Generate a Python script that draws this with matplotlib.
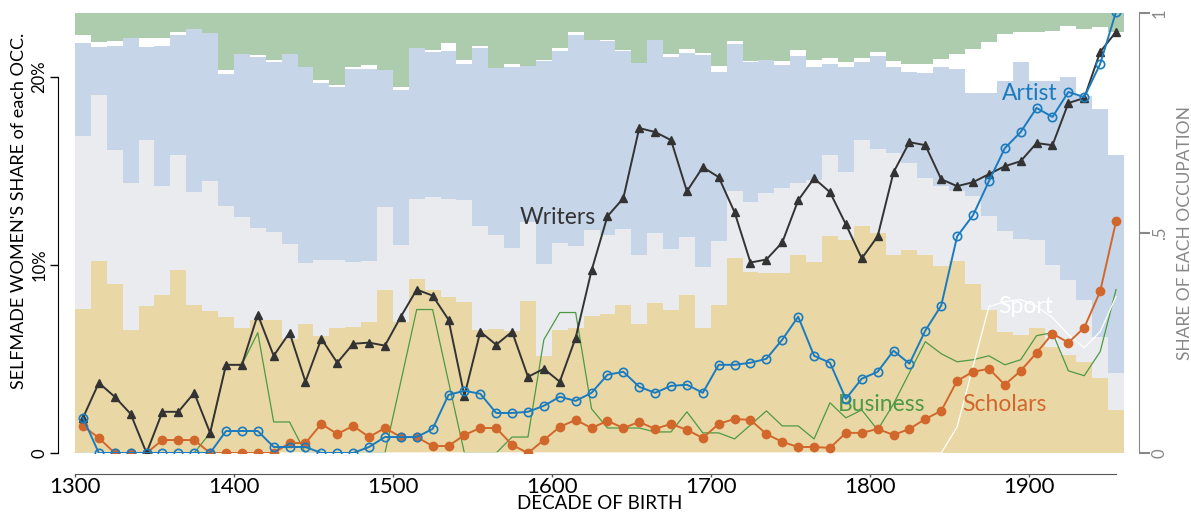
import numpy as np
import matplotlib.pyplot as plt

plt.rcParams['font.family'] = ['Lato', 'DejaVu Sans']

decades = list(range(1300, 1960, 10))

# share of each occupation among self-made women (percent)
share_scholars = [32.8, 43.7, 38.3, 28.0, 33.5, 36.0, 41.5, 33.5, 32.3, 31.0,
                  28.5, 30.3, 30.3, 26.0, 29.4, 26.7, 28.5, 28.7, 29.8, 37.1,
                  29.8, 39.6, 37.1, 35.5, 34.4, 28.0, 28.2, 27.8, 34.6, 22.1,
                  28.0, 28.5, 31.2, 31.7, 33.5, 29.4, 34.2, 32.6, 36.0, 28.5,
                  33.7, 44.4, 41.2, 41.0, 40.8, 44.9, 43.5, 49.4, 48.3, 51.7,
                  49.9, 45.1, 46.0, 45.1, 42.6, 43.5, 38.3, 32.6, 27.6, 26.9,
                  28.5, 24.1, 22.3, 20.7, 17.1, 9.8]
share_writers = [39.2, 37.6, 30.5, 33.3, 37.6, 24.6, 26.2, 25.7, 29.6, 25.1,
                 25.1, 21.0, 20.0, 21.6, 13.7, 17.3, 15.5, 14.8, 13.7, 18.9,
                 17.5, 18.2, 21.0, 22.1, 23.2, 23.5, 21.4, 18.9, 18.0, 20.7,
                 19.8, 18.5, 19.6, 18.0, 17.3, 15.7, 15.9, 13.7, 13.0, 13.9,
                 14.6, 15.3, 15.9, 18.2, 19.4, 16.4, 18.5, 18.5, 15.5, 19.4,
                 19.1, 23.0, 19.8, 17.3, 18.0, 15.9, 20.0, 21.2, 22.8, 21.6,
                 20.0, 18.7, 17.1, 14.1, 9.3, 8.4]
share_artists = [21.2, 10.9, 23.7, 33.0, 21.2, 31.9, 27.3, 37.1, 33.5, 30.1,
                 37.1, 38.7, 38.5, 43.1, 44.6, 40.1, 39.2, 43.7, 43.7, 31.0,
                 35.3, 34.2, 33.0, 33.7, 30.8, 40.5, 37.8, 41.0, 35.3, 46.2,
                 43.5, 48.1, 43.1, 44.0, 40.5, 43.5, 43.7, 43.7, 41.9, 48.1,
                 38.3, 33.3, 31.7, 30.1, 28.0, 28.9, 25.7, 20.5, 23.9, 17.8,
                 21.2, 19.6, 20.7, 23.9, 27.1, 27.8, 23.5, 28.0, 34.2, 40.3,
                 36.0, 41.7, 46.0, 46.2, 51.7, 49.4]
share_sport = [1.8, 1.1, 1.1, 0.0, 2.1, 1.8, 0.7, 0.0, 0.0, 0.9,
               0.0, 0.5, 0.5, 0.0, 0.0, 0.7, 0.5, 0.5, 0.9, 0.0,
               0.5, 0.0, 0.5, 1.8, 0.9, 0.5, 0.0, 0.7, 0.0, 0.2,
               0.7, 0.7, 0.0, 0.2, 0.2, 0.0, 0.0, 0.7, 0.9, 0.5,
               1.4, 0.7, 0.2, 0.0, 0.9, 1.4, 1.6, 1.4, 1.1, 0.9,
               0.9, 1.4, 1.8, 2.1, 1.8, 3.4, 10.0, 11.6, 10.7, 6.8,
               11.2, 11.4, 11.6, 15.3, 18.7, 28.0]
share_business = [5.0, 6.6, 6.4, 5.7, 5.7, 5.7, 4.3, 3.6, 4.6, 13.0,
                  9.3, 9.6, 10.7, 9.3, 12.3, 15.3, 16.4, 12.3, 11.8, 13.0,
                  16.9, 8.0, 8.4, 6.8, 10.7, 7.5, 12.5, 11.6, 12.1, 10.7,
                  8.0, 4.3, 6.2, 6.2, 8.4, 11.4, 6.2, 9.3, 8.2, 9.1,
                  12.1, 6.4, 10.9, 10.7, 10.9, 8.4, 10.7, 10.3, 11.2, 10.3,
                  8.9, 10.9, 11.6, 11.6, 10.5, 9.3, 8.2, 6.6, 4.8, 4.3,
                  4.3, 4.1, 3.0, 3.6, 3.2, 4.3]

# self-made women's share within each occupation (percent)
women_writers = [1.87, 3.73, 2.99, 2.08, 0, 2.19, 2.19, 3.2, 1.07, 4.69,
                 4.69, 7.36, 5.17, 6.4, 3.79, 6.08, 4.8, 5.81, 5.87, 5.71,
                 7.25, 8.69, 8.37, 7.09, 3.04, 6.45, 5.76, 6.45, 4.05, 4.48,
                 3.79, 6.13, 9.71, 12.59, 13.55, 17.28, 17.07, 16.64, 13.92, 15.2,
                 14.67, 12.8, 10.13, 10.29, 11.2, 13.44, 14.61, 13.87, 12.16, 10.35,
                 11.52, 14.93, 16.53, 16.37, 14.56, 14.19, 14.4, 14.83, 15.25, 15.52,
                 16.48, 16.37, 18.61, 18.88, 21.33, 22.4]
women_artists = [1.87, 0, 0, 0, 0, 0, 0, 0, 0, 1.17,
                 1.17, 1.17, 0.32, 0.32, 0.32, 0, 0, 0, 0.32, 0.85,
                 0.85, 0.85, 1.28, 3.09, 3.31, 3.15, 2.13, 2.13, 2.19, 2.51,
                 2.99, 2.77, 3.2, 4.16, 4.32, 3.52, 3.2, 3.57, 3.63, 3.2,
                 4.69, 4.69, 4.8, 5.01, 6.03, 7.25, 5.17, 4.8, 2.88, 3.95,
                 4.32, 5.44, 4.75, 6.51, 7.84, 11.52, 12.64, 14.45, 16.21, 17.07,
                 18.35, 17.87, 19.2, 18.93, 20.69, 23.47]
women_scholars = [1.44, 0.8, 0, 0, 0, 0.69, 0.69, 0.69, 0, 0,
                  0, 0, 0, 0.53, 0.53, 1.55, 1.01, 1.44, 0.85, 1.33,
                  0.85, 0.85, 0.37, 0.37, 0.96, 1.33, 1.33, 0.43, 0, 0.69,
                  1.39, 1.76, 1.33, 1.71, 1.33, 1.65, 1.28, 1.55, 1.23, 0.8,
                  1.55, 1.81, 1.76, 1.01, 0.59, 0.32, 0.32, 0.27, 1.07, 1.07,
                  1.28, 0.96, 1.28, 1.81, 2.24, 3.84, 4.32, 4.48, 3.63, 4.37,
                  5.33, 6.35, 5.87, 6.67, 8.59, 12.32]
women_business = [0, 0, 0, 0, 0, 0, 0, 0, 1.07, 4.69,
                  4.69, 6.4, 1.65, 1.65, 0, 0, 0, 0, 0, 0,
                  3.8, 7.63, 7.63, 3.79, 0, 0, 0, 0.85, 0.85, 6.03,
                  7.47, 7.47, 2.35, 1.33, 1.33, 1.33, 1.12, 1.12, 2.19, 1.07,
                  1.07, 0.75, 1.49, 2.24, 1.44, 1.44, 0.75, 2.67, 1.87, 2.29,
                  1.23, 2.61, 4.27, 5.92, 5.28, 4.85, 4.96, 5.17, 4.69, 4.96,
                  6.24, 6.4, 4.37, 4.11, 5.39, 8.69]
women_sport = [0] * 54 + [0, 1.39, 4.59, 7.79, 8.05, 8.16, 7.79, 7.2, 6.29, 5.6, 6.45, 8.32]

fig = plt.figure(figsize=(11.91, 5.16), dpi=100)
ax = fig.add_axes([75 / 1191, 63 / 516, 1049 / 1191, 440 / 516])
ax2 = ax.twinx()
ax.set_zorder(2)
ax.patch.set_visible(False)

# background: stacked shares (step areas on the right axis)
layers = [share_scholars, share_writers, share_artists, share_sport, share_business]
colors = ['#e9d8a6', '#e9ebee', '#c6d5e8', '#ffffff', '#adcbad']
shares = np.array(layers, dtype=float)
shares = shares / shares.sum(axis=0)
xs = np.append(decades, 1960)
base = np.zeros(len(decades))
for s, c in zip(shares, colors):
    top = base + s
    ax2.fill_between(xs, np.append(base, base[-1]), np.append(top, top[-1]),
                     step='post', color=c, linewidth=0)
    base = top
ax2.set_ylim(0, 1)

# lines
mid = np.array(decades) + 5
ax.plot(mid, women_business, color='#4e9a44', lw=0.9, zorder=3)
ax.plot(mid, women_sport, color='white', lw=0.9, zorder=3)
ax.plot(mid, women_scholars, color='#d2672c', lw=1.4, marker='o', ms=6, zorder=4)
ax.plot(mid, women_writers, color='#333333', lw=1.4, marker='^', ms=6, zorder=5)
ax.plot(mid, women_artists, color='#1a7bbf', lw=1.4, marker='o', ms=6,
        mfc='none', mew=1.2, zorder=6)

ax.set_xlim(1300, 1960)
ax.set_ylim(0, 23.4)

ax.text(1604, 12.5, 'Writers', color='#333333', fontsize=16.5, ha='center', va='center')
ax.text(1900.5, 19.1, 'Artist', color='#1a7bbf', fontsize=16.5, ha='center', va='center')
ax.text(1807.5, 2.6, 'Business', color='#4e9a44', fontsize=16.5, ha='center', va='center')
ax.text(1884.5, 2.6, 'Scholars', color='#d2672c', fontsize=16.5, ha='center', va='center')
ax.text(1898, 7.8, 'Sport', color='white', fontsize=16.5, ha='center', va='center')

# axes styling
for sp in ['top', 'right']:
    ax.spines[sp].set_visible(False)
for sp in ['top', 'left', 'bottom']:
    ax2.spines[sp].set_visible(False)

ax.spines['left'].set_position(('outward', 12))
ax.spines['left'].set_bounds(0, 20)
ax.set_yticks([0, 10, 20])
ax.set_yticklabels(['0', '10%', '20%'], rotation=90, va='center')
ax.tick_params(axis='y', length=6, width=1, labelsize=12, pad=2)
ax.set_ylabel("SELFMADE WOMEN'S SHARE of each OCC.", fontsize=13)
ax.yaxis.set_label_coords(-0.046, 0.55)

ax.spines['bottom'].set_position(('outward', 15))
ax.spines['bottom'].set_bounds(1300, 1955)
ax.spines['bottom'].set_color('#555555')
ax.set_xticks(range(1300, 2000, 100))
ax.tick_params(axis='x', length=2, width=1, color='#555555', labelsize=16, pad=0)
ax.set_xlabel('DECADE OF BIRTH', fontsize=13.5, labelpad=-1)

ax2.spines['right'].set_position(('outward', 11))
ax2.spines['right'].set_bounds(0, 1)
ax2.spines['right'].set_color('#888888')
ax2.set_yticks([0, 0.5, 1])
ax2.set_yticklabels(['0', '.5', '1'], rotation=90, va='center')
ax2.tick_params(axis='y', length=8, width=1.5, color='#888888', labelcolor='#888888',
                labelsize=12, pad=1)
ax2.set_ylabel('SHARE OF EACH OCCUPATION', color='#888888', fontsize=12.5, rotation=90,
               va='center')
ax2.yaxis.set_label_coords(1.058, 0.5)

fig.savefig('out.png', dpi=100)
